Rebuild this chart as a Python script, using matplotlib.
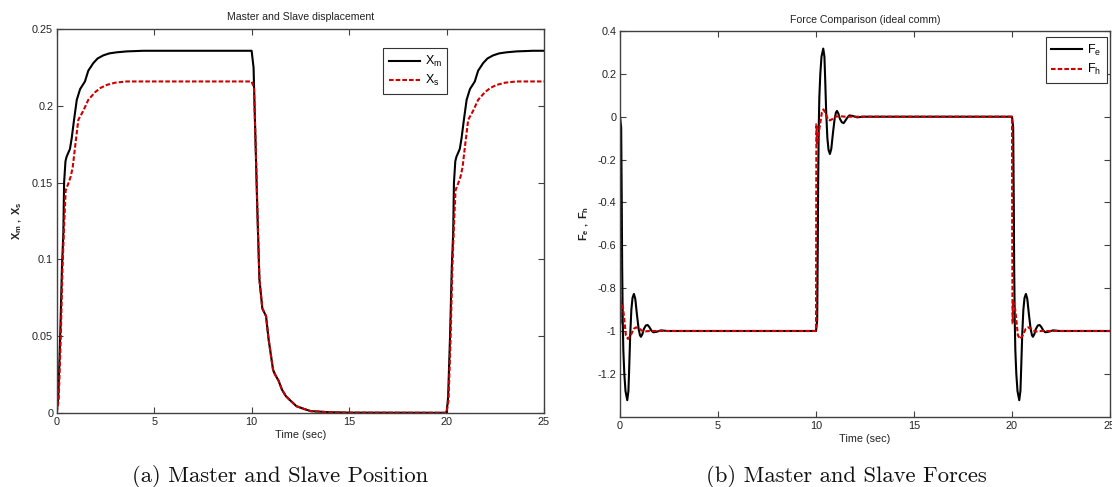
import numpy as np
import matplotlib
matplotlib.use("Agg")
import matplotlib.pyplot as plt

plt.rcParams['font.family'] = ['Liberation Sans', 'DejaVu Sans']
plt.rcParams['mathtext.fontset'] = 'custom'
plt.rcParams['mathtext.rm'] = 'Liberation Sans'
plt.rcParams['mathtext.it'] = 'Liberation Sans:italic'
plt.rcParams['mathtext.bf'] = 'Liberation Sans:bold'

# ---------------- data: position plot ----------------
step_times = [0.0, 10.0, 20.0]
t_end = 25.0

# rise after a step (time offsets from step, values)
xm_rise_dt = [0, 0.08, 0.18, 0.27, 0.34, 0.38, 0.45, 0.51, 0.68, 0.77, 0.89, 1.03, 1.2, 1.45, 1.62, 1.88, 2.1, 2.39, 2.7, 3.08, 3.6, 4.44]
xm_rise_v = [0, 0.01, 0.05, 0.095, 0.117, 0.15, 0.164, 0.167, 0.172, 0.179, 0.191, 0.204, 0.211, 0.216, 0.223, 0.228, 0.231, 0.233, 0.2343, 0.235, 0.2356, 0.236]
xs_rise_dt = [0, 0.1, 0.2, 0.3, 0.39, 0.46, 0.6, 0.72, 0.82, 0.94, 1.11, 1.37, 1.62, 1.97, 2.25, 2.56, 3.0, 3.59]
xs_rise_v = [0, 0.008, 0.045, 0.095, 0.125, 0.145, 0.1496, 0.154, 0.16, 0.173, 0.191, 0.197, 0.204, 0.209, 0.2118, 0.2137, 0.2152, 0.216]

# decay after the step at t=10
xm_fall_dt = [0, 0.1, 0.28, 0.4, 0.55, 0.74, 0.87, 1.1, 1.2, 1.38, 1.56, 1.75, 1.93, 2.3, 2.67, 3.03, 3.95, 5.0, 9.99]
xm_fall_v = [0.236, 0.225, 0.138, 0.087, 0.068, 0.063, 0.048, 0.028, 0.025, 0.021, 0.015, 0.011, 0.0087, 0.0043, 0.0026, 0.0011, 0.0004, 0.0001, 0.0]
xs_fall_dt = [0, 0.12, 0.24, 0.32, 0.4, 0.55, 0.74, 0.87, 1.1, 1.2, 1.38, 1.56, 1.75, 1.93, 2.3, 2.67, 3.03, 3.95, 5.0, 9.99]
xs_fall_v = [0.216, 0.212, 0.16, 0.12, 0.087, 0.068, 0.063, 0.048, 0.028, 0.025, 0.021, 0.015, 0.011, 0.0087, 0.0043, 0.0026, 0.0011, 0.0004, 0.0001, 0.0]

# ---------------- data: force plot ----------------
fe_down_dt = [0, 0.06, 0.09, 0.11, 0.14, 0.17, 0.22, 0.28, 0.37, 0.43, 0.47, 0.52, 0.58, 0.64, 0.71, 0.78, 0.86, 0.95,
              1.02, 1.07, 1.14, 1.22, 1.32, 1.41, 1.5, 1.6, 1.7, 1.85, 2.1, 2.4]
fe_down_v = [0, -0.05, -0.4, -0.7, -0.95, -1.09, -1.2, -1.28, -1.323, -1.28, -1.17, -1.02, -0.9, -0.845, -0.827, -0.85,
             -0.92, -0.99, -1.02, -1.027, -1.015, -0.99, -0.974, -0.972, -0.982, -0.998, -1.006, -1.004, -0.997, -1.0]
fe_up_dt = fe_down_dt
fe_up_v = [-1, -0.95, -0.6, -0.3, -0.05, 0.09, 0.2, 0.28, 0.318, 0.28, 0.17, 0.02, -0.1, -0.155, -0.174, -0.15,
           -0.08, -0.01, 0.02, 0.027, 0.015, -0.01, -0.026, -0.03, -0.018, -0.004, 0.006, 0.004, -0.003, 0.0]
fh_down_dt = [0, 0.01, 0.03, 0.04, 0.05, 0.14, 0.2, 0.3, 0.41, 0.55, 0.7, 0.82, 1.0, 1.19, 1.5]
fh_down_v = [0, -0.5, -0.965, -0.965, -0.86, -0.884, -0.93, -1.02, -1.037, -1.02, -0.99, -0.983, -0.99, -1.003, -1.0]
fh_up_dt = [0, 0.01, 0.02, 0.03, 0.05, 0.1, 0.2, 0.3, 0.38, 0.5, 0.6, 0.7, 0.82, 1.0, 1.2, 1.5]
fh_up_v = [-1, -0.5, -0.034, -0.034, -0.13, -0.1, -0.04, 0.02, 0.034, 0.015, -0.013, -0.017, -0.012, 0.0, 0.003, 0.0]

x_ticks = [0, 5, 10, 15, 20, 25]
pos_yticks = [0, 0.05, 0.1, 0.15, 0.2, 0.25]
pos_yticklabels = ['0', '0.05', '0.1', '0.15', '0.2', '0.25']
force_yticks = [0.4, 0.2, 0, -0.2, -0.4, -0.6, -0.8, -1.0, -1.2]
force_yticklabels = ['0.4', '0.2', '0', '-0.2', '-0.4', '-0.6', '-0.8', '-1', '-1.2']


def build(segments, end):
    tt, vv = [], []
    for t0, dt, v in segments:
        tt += [t0 + d for d in dt]
        vv += list(v)
    tt.append(end)
    vv.append(vv[-1])
    return np.array(tt), np.array(vv)


xm_t, xm_v = build([(step_times[0], xm_rise_dt, xm_rise_v), (step_times[1], xm_fall_dt, xm_fall_v),
                    (step_times[2], xm_rise_dt, xm_rise_v)], t_end)
xs_t, xs_v = build([(step_times[0], xs_rise_dt, xs_rise_v), (step_times[1], xs_fall_dt, xs_fall_v),
                    (step_times[2], xs_rise_dt, xs_rise_v)], t_end)
fe_t, fe_v = build([(step_times[0], fe_down_dt, fe_down_v), (step_times[1], fe_up_dt, fe_up_v),
                    (step_times[2], fe_down_dt, fe_down_v)], t_end)
fh_t, fh_v = build([(step_times[0], fh_down_dt, fh_down_v), (step_times[1], fh_up_dt, fh_up_v),
                    (step_times[2], fh_down_dt, fh_down_v)], t_end)

# ---------------- figure ----------------
W, H = 1112, 487
fig = plt.figure(figsize=(W / 100, H / 100), dpi=100)

RED = '#cc0000'
SP = '#404040'
TXT = '#222222'
FS = 7.8


def style(ax):
    for s in ax.spines.values():
        s.set_color(SP)
        s.set_linewidth(1.0)
    ax.tick_params(direction='in', top=True, right=True, length=4, width=0.8, color=SP,
                   labelsize=FS, labelcolor=TXT, pad=3)
    ax.tick_params(axis='y', pad=2.5)


def legend(ax, anchor):
    lg = ax.legend(loc='upper right', bbox_to_anchor=anchor, borderaxespad=0, fontsize=9,
                   handlelength=2.5, handletextpad=0.35, labelspacing=0.35, borderpad=0.45,
                   fancybox=False, framealpha=1, edgecolor='#333333')
    lg.get_frame().set_linewidth(0.8)
    return lg


ax1 = fig.add_axes([56.7 / W, 1 - 412.8 / H, 487.3 / W, 383.5 / H])
ax1.plot(xm_t, xm_v, color='black', lw=1.5, label=r'X$_\mathrm{m}$')
ax1.plot(xs_t, xs_v, color=RED, lw=1.5, ls=(0, (2.2, 1.0)), label=r'X$_\mathrm{s}$')
ax1.set_xlim(0, 25)
ax1.set_ylim(0, 0.25)
ax1.set_xticks(x_ticks)
ax1.set_yticks(pos_yticks)
ax1.set_yticklabels(pos_yticklabels)
style(ax1)
ax1.set_title('Master and Slave displacement', fontsize=7.6, color=TXT, pad=7)
ax1.set_xlabel('Time (sec)', fontsize=FS, color=TXT, labelpad=2)
ax1.set_ylabel(r'$\mathbf{X_m\ ,\ X_s}$', fontsize=FS, color=TXT, labelpad=6)
legend(ax1, (0.8016, 0.9505))

ax2 = fig.add_axes([620 / W, 1 - 416.7 / H, 490 / W, 385.7 / H])
ax2.plot(fe_t, fe_v, color='black', lw=1.5, label=r'F$_\mathrm{e}$')
ax2.plot(fh_t, fh_v, color=RED, lw=1.5, ls=(0, (2.2, 1.0)), label=r'F$_\mathrm{h}$')
ax2.set_xlim(0, 25)
ax2.set_ylim(-1.4, 0.4)
ax2.set_xticks(x_ticks)
ax2.set_yticks(force_yticks)
ax2.set_yticklabels(force_yticklabels)
style(ax2)
ax2.set_title('Force Comparison (ideal comm)', fontsize=7.6, color=TXT, pad=6)
ax2.set_xlabel('Time (sec)', fontsize=FS, color=TXT, labelpad=2)
ax2.set_ylabel(r'$\mathbf{F_e\ ,\ F_h}$', fontsize=FS, color=TXT, labelpad=5)
legend(ax2, (0.9933, 0.985))

fig.text(280 / W, 1 - 476 / H, '(a) Master and Slave Position', fontfamily='cmr10', fontsize=16.3,
         ha='center', va='center', color='#111111')
fig.text(846 / W, 1 - 476 / H, '(b) Master and Slave Forces', fontfamily='cmr10', fontsize=16.3,
         ha='center', va='center', color='#111111')

fig.savefig('out.png', dpi=100)
